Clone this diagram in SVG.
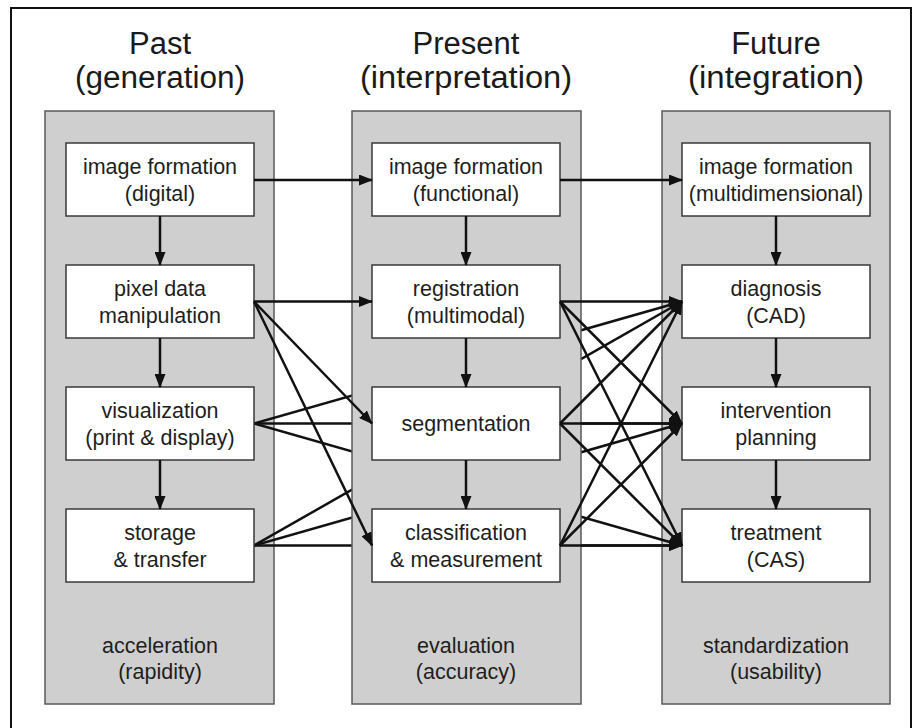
<svg xmlns="http://www.w3.org/2000/svg" width="920" height="728" viewBox="0 0 920 728">
<defs>
<style>
.panel{fill:#cfcfcf;stroke:#5a5a5a;stroke-width:1.5}
.box{fill:#ffffff;stroke:#3a3a3a;stroke-width:1.5}
.t{font-family:"Liberation Sans",Arial,sans-serif;font-size:21.5px;fill:#1e1e1e;text-anchor:middle}
.title{font-family:"Liberation Sans",Arial,sans-serif;font-size:31px;fill:#1a1a1a;text-anchor:middle}
.c{stroke:#111;stroke-width:2.5;fill:none;marker-end:url(#ah)}
</style>
<marker id="ah" markerUnits="userSpaceOnUse" markerWidth="14" markerHeight="11" refX="13" refY="5.5" orient="auto">
<path d="M0,0 L14,5.5 L0,11 z" fill="#111"/>
</marker>
</defs>
<rect x="0" y="0" width="920" height="728" fill="#ffffff"/>
<rect x="11" y="8" width="900" height="740" fill="none" stroke="#111" stroke-width="2"/>

<g id="titles">
<text class="title" x="160" y="54">Past</text>
<text class="title" x="160" y="88" textLength="170" lengthAdjust="spacingAndGlyphs">(generation)</text>
<text class="title" x="466" y="54">Present</text>
<text class="title" x="466" y="88" textLength="212" lengthAdjust="spacingAndGlyphs">(interpretation)</text>
<text class="title" x="776" y="54">Future</text>
<text class="title" x="776" y="88" textLength="176" lengthAdjust="spacingAndGlyphs">(integration)</text>
</g>

<g id="col-past">
<rect class="panel" x="45" y="111" width="229" height="593"/>
<text class="t" x="160" y="653">acceleration</text>
<text class="t" x="160" y="679">(rapidity)</text>
</g>
<g id="col-future">
<rect class="panel" x="662" y="111" width="228" height="593"/>
<text class="t" x="776" y="653">standardization</text>
<text class="t" x="776" y="679">(usability)</text>
</g>

<g id="connectors-hidden">
<line class="c" x1="254" y1="423.5" x2="682" y2="301.5"/>
<line class="c" x1="254" y1="423.5" x2="682" y2="423.5"/>
<line class="c" x1="254" y1="423.5" x2="682" y2="545.5"/>
<line class="c" x1="254" y1="545.5" x2="682" y2="301.5"/>
<line class="c" x1="254" y1="545.5" x2="682" y2="423.5"/>
<line class="c" x1="254" y1="545.5" x2="682" y2="545.5"/>
</g>

<g id="col-present">
<rect class="panel" x="352" y="111" width="229" height="593"/>
<text class="t" x="466" y="653">evaluation</text>
<text class="t" x="466" y="679">(accuracy)</text>
</g>

<g id="past-image-formation">
<rect class="box" x="66" y="143" width="188" height="73"/>
<text class="t" x="160" y="174">image formation</text>
<text class="t" x="160" y="201">(digital)</text>
</g>
<g id="past-pixel-data">
<rect class="box" x="66" y="265" width="188" height="73"/>
<text class="t" x="160" y="296">pixel data</text>
<text class="t" x="160" y="323">manipulation</text>
</g>
<g id="past-visualization">
<rect class="box" x="66" y="387" width="188" height="73"/>
<text class="t" x="160" y="418">visualization</text>
<text class="t" x="160" y="445">(print &amp; display)</text>
</g>
<g id="past-storage">
<rect class="box" x="66" y="509" width="188" height="73"/>
<text class="t" x="160" y="540">storage</text>
<text class="t" x="160" y="567">&amp; transfer</text>
</g>

<g id="present-image-formation">
<rect class="box" x="372" y="143" width="188" height="73"/>
<text class="t" x="466" y="174">image formation</text>
<text class="t" x="466" y="201">(functional)</text>
</g>
<g id="present-registration">
<rect class="box" x="372" y="265" width="188" height="73"/>
<text class="t" x="466" y="296">registration</text>
<text class="t" x="466" y="323">(multimodal)</text>
</g>
<g id="present-segmentation">
<rect class="box" x="372" y="387" width="188" height="73"/>
<text class="t" x="466" y="431">segmentation</text>
</g>
<g id="present-classification">
<rect class="box" x="372" y="509" width="188" height="73"/>
<text class="t" x="466" y="540">classification</text>
<text class="t" x="466" y="567">&amp; measurement</text>
</g>

<g id="future-image-formation">
<rect class="box" x="682" y="143" width="188" height="73"/>
<text class="t" x="776" y="174">image formation</text>
<text class="t" x="776" y="201">(multidimensional)</text>
</g>
<g id="future-diagnosis">
<rect class="box" x="682" y="265" width="188" height="73"/>
<text class="t" x="776" y="296">diagnosis</text>
<text class="t" x="776" y="323">(CAD)</text>
</g>
<g id="future-intervention">
<rect class="box" x="682" y="387" width="188" height="73"/>
<text class="t" x="776" y="418">intervention</text>
<text class="t" x="776" y="445">planning</text>
</g>
<g id="future-treatment">
<rect class="box" x="682" y="509" width="188" height="73"/>
<text class="t" x="776" y="540">treatment</text>
<text class="t" x="776" y="567">(CAS)</text>
</g>

<g id="connectors">
<line class="c" x1="160" y1="216" x2="160" y2="265"/>
<line class="c" x1="160" y1="338" x2="160" y2="387"/>
<line class="c" x1="160" y1="460" x2="160" y2="509"/>
<line class="c" x1="466" y1="216" x2="466" y2="265"/>
<line class="c" x1="466" y1="338" x2="466" y2="387"/>
<line class="c" x1="466" y1="460" x2="466" y2="509"/>
<line class="c" x1="776" y1="216" x2="776" y2="265"/>
<line class="c" x1="776" y1="338" x2="776" y2="387"/>
<line class="c" x1="776" y1="460" x2="776" y2="509"/>

<line class="c" x1="254" y1="180" x2="372" y2="180"/>
<line class="c" x1="560" y1="180" x2="682" y2="180"/>

<line class="c" x1="254" y1="301.5" x2="372" y2="301.5"/>
<line class="c" x1="254" y1="301.5" x2="372" y2="423.5"/>
<line class="c" x1="254" y1="301.5" x2="372" y2="545.5"/>

<line class="c" x1="560" y1="301.5" x2="682" y2="301.5"/>
<line class="c" x1="560" y1="301.5" x2="682" y2="423.5"/>
<line class="c" x1="560" y1="301.5" x2="682" y2="545.5"/>
<line class="c" x1="560" y1="423.5" x2="682" y2="301.5"/>
<line class="c" x1="560" y1="423.5" x2="682" y2="423.5"/>
<line class="c" x1="560" y1="423.5" x2="682" y2="545.5"/>
<line class="c" x1="560" y1="545.5" x2="682" y2="301.5"/>
<line class="c" x1="560" y1="545.5" x2="682" y2="423.5"/>
<line class="c" x1="560" y1="545.5" x2="682" y2="545.5"/>
</g>
</svg>
